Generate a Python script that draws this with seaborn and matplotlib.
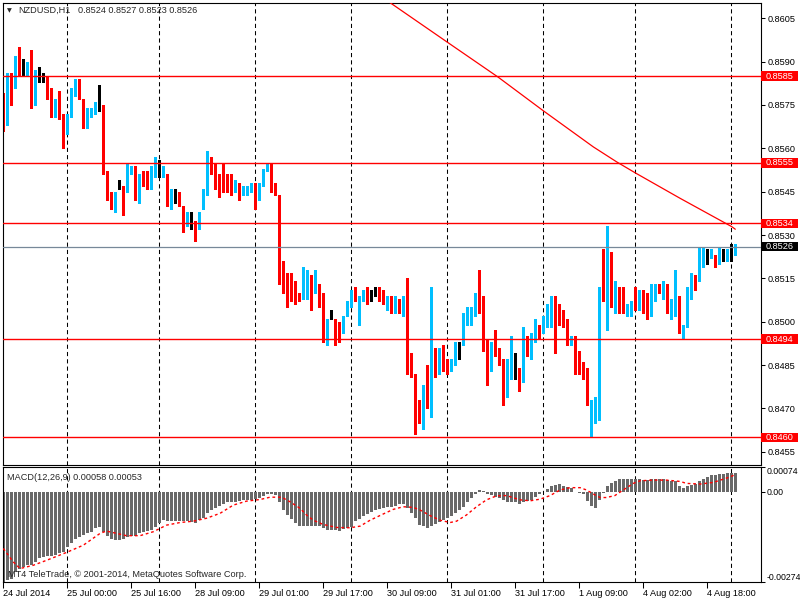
import numpy as np
import matplotlib
matplotlib.use("Agg")
import matplotlib.pyplot as plt
from matplotlib.patches import Rectangle
from matplotlib.transforms import blended_transform_factory
import seaborn as sns

SYMBOL = "NZDUSD"
PERIOD = "H1"

# H1 quotes, in points of 0.0001 (8578 -> 0.8578), bar 1 = 24 Jul 2014 08:00
open_pts = [
    8578, 8574, 8585, 8584, 8592, 8589, 8588, 8588, 8575, 8585,
    8584, 8585, 8581, 8572, 8577, 8572, 8565, 8571, 8579, 8582,
    8577, 8570, 8572, 8573, 8576, 8575, 8552, 8545, 8541, 8546,
    8547, 8545, 8551, 8553, 8545, 8549, 8549, 8546, 8551, 8553,
    8551, 8551, 8539, 8544, 8545, 8540, 8533, 8536, 8535, 8532,
    8539, 8544, 8557, 8552, 8548, 8549, 8549, 8547, 8546, 8546,
    8544, 8545, 8546, 8548, 8543, 8547, 8553, 8553, 8548, 8544,
    8518, 8514, 8514, 8514, 8509, 8509, 8514, 8516, 8511, 8513,
    8510, 8495, 8502, 8501, 8500, 8497, 8503, 8506, 8510, 8506,
    8507, 8511, 8509, 8510, 8511, 8509, 8507, 8509, 8503, 8508,
    8504, 8509, 8487, 8482, 8473, 8466, 8476, 8475, 8487, 8483,
    8489, 8485, 8484, 8485, 8492, 8493, 8501, 8503, 8503, 8509,
    8508, 8493, 8488, 8493, 8490, 8486, 8480, 8481, 8486, 8484,
    8481, 8490, 8488, 8493, 8499, 8496, 8498, 8502, 8509, 8506,
    8504, 8501, 8493, 8495, 8487, 8484, 8484, 8470, 8470, 8472,
    8512, 8509, 8521, 8507, 8509, 8509, 8503, 8503, 8507, 8505,
    8508, 8506, 8503, 8510, 8513, 8510, 8510, 8505, 8505, 8506,
    8496, 8499, 8508, 8514, 8514, 8520, 8522, 8523, 8523, 8520,
    8524, 8522, 8524, 8524,
]
high_pts = [
    8579, 8586, 8586, 8592, 8595, 8591, 8590, 8594, 8587, 8588,
    8586, 8585, 8581, 8577, 8580, 8572, 8572, 8581, 8584, 8584,
    8577, 8574, 8574, 8576, 8582, 8575, 8552, 8545, 8545, 8549,
    8547, 8555, 8554, 8554, 8551, 8552, 8552, 8554, 8557, 8556,
    8554, 8551, 8546, 8546, 8545, 8540, 8538, 8538, 8535, 8538,
    8546, 8559, 8557, 8555, 8551, 8555, 8551, 8551, 8549, 8548,
    8547, 8547, 8548, 8548, 8548, 8553, 8555, 8555, 8548, 8544,
    8521, 8517, 8517, 8514, 8510, 8519, 8518, 8516, 8518, 8513,
    8510, 8501, 8504, 8501, 8500, 8502, 8507, 8511, 8512, 8509,
    8511, 8512, 8511, 8512, 8512, 8511, 8509, 8509, 8509, 8508,
    8509, 8515, 8489, 8482, 8473, 8478, 8485, 8512, 8491, 8491,
    8492, 8487, 8487, 8493, 8493, 8503, 8505, 8505, 8510, 8518,
    8509, 8494, 8493, 8497, 8491, 8487, 8487, 8495, 8489, 8484,
    8498, 8495, 8496, 8501, 8499, 8502, 8506, 8509, 8509, 8506,
    8504, 8501, 8495, 8495, 8490, 8486, 8484, 8473, 8474, 8512,
    8525, 8533, 8524, 8514, 8512, 8512, 8506, 8507, 8512, 8511,
    8511, 8510, 8513, 8513, 8513, 8514, 8513, 8508, 8518, 8509,
    8499, 8512, 8517, 8516, 8526, 8526, 8525, 8525, 8523, 8526,
    8525, 8525, 8527, 8527,
]
low_pts = [
    8566, 8568, 8575, 8581, 8585, 8585, 8585, 8574, 8575, 8583,
    8583, 8577, 8571, 8571, 8570, 8560, 8565, 8571, 8578, 8577,
    8567, 8567, 8571, 8572, 8573, 8551, 8542, 8539, 8538, 8546,
    8537, 8545, 8551, 8542, 8541, 8547, 8546, 8546, 8550, 8550,
    8550, 8540, 8539, 8541, 8540, 8531, 8533, 8532, 8528, 8532,
    8539, 8544, 8551, 8546, 8543, 8545, 8545, 8544, 8545, 8542,
    8544, 8544, 8545, 8539, 8542, 8547, 8552, 8545, 8544, 8513,
    8510, 8505, 8507, 8506, 8507, 8508, 8508, 8504, 8510, 8505,
    8493, 8492, 8501, 8492, 8493, 8496, 8502, 8505, 8507, 8499,
    8507, 8506, 8507, 8509, 8507, 8506, 8504, 8503, 8503, 8503,
    8502, 8482, 8481, 8461, 8465, 8463, 8470, 8467, 8481, 8482,
    8483, 8482, 8483, 8485, 8487, 8492, 8499, 8499, 8502, 8503,
    8490, 8478, 8483, 8488, 8485, 8471, 8474, 8480, 8480, 8476,
    8479, 8488, 8487, 8493, 8494, 8496, 8498, 8498, 8489, 8499,
    8498, 8492, 8492, 8482, 8482, 8480, 8471, 8460, 8465, 8466,
    8507, 8497, 8505, 8503, 8503, 8503, 8502, 8502, 8504, 8504,
    8503, 8501, 8502, 8507, 8510, 8508, 8503, 8501, 8502, 8496,
    8494, 8498, 8508, 8511, 8514, 8519, 8520, 8522, 8519, 8520,
    8521, 8521, 8521, 8523,
]
close_pts = [
    8573, 8585, 8583, 8591, 8590, 8589, 8589, 8574, 8586, 8585,
    8584, 8582, 8573, 8575, 8571, 8564, 8572, 8578, 8583, 8578,
    8571, 8573, 8574, 8575, 8576, 8553, 8545, 8542, 8545, 8546,
    8546, 8552, 8552, 8544, 8549, 8548, 8547, 8552, 8552, 8553,
    8552, 8540, 8543, 8544, 8541, 8532, 8537, 8536, 8534, 8538,
    8545, 8558, 8551, 8547, 8547, 8546, 8546, 8545, 8547, 8543,
    8546, 8547, 8547, 8543, 8547, 8552, 8554, 8549, 8545, 8517,
    8513, 8513, 8513, 8510, 8508, 8513, 8516, 8510, 8514, 8509,
    8494, 8501, 8502, 8498, 8496, 8502, 8505, 8509, 8507, 8509,
    8510, 8508, 8509, 8510, 8508, 8508, 8509, 8504, 8509, 8504,
    8509, 8486, 8482, 8473, 8467, 8476, 8474, 8486, 8482, 8490,
    8484, 8483, 8487, 8490, 8492, 8502, 8502, 8504, 8509, 8506,
    8494, 8489, 8493, 8490, 8487, 8481, 8483, 8485, 8486, 8479,
    8492, 8489, 8493, 8499, 8497, 8499, 8503, 8508, 8507, 8500,
    8499, 8494, 8495, 8486, 8485, 8483, 8472, 8473, 8474, 8512,
    8508, 8520, 8506, 8509, 8508, 8504, 8505, 8506, 8505, 8507,
    8505, 8504, 8509, 8512, 8511, 8511, 8504, 8507, 8508, 8497,
    8499, 8509, 8515, 8513, 8521, 8521, 8522, 8525, 8521, 8522,
    8524, 8525, 8524, 8526,
]

# moving average on the price chart, read at a few bars
ma_bar = [97.7, 112.25, 124.75, 136, 148.5, 154.35, 159, 170.2, 183.1, 184]
ma_val = [0.86104, 0.85965, 0.85846, 0.85730, 0.85605, 0.85553, 0.85515,
          0.85427, 0.85329, 0.85320]

# MACD(12,26,9) main histogram, in units of 0.00001
macd_pts = [
    -274, -270, -265, -244, -234, -229, -224, -222, -214, -202,
    -198, -195, -195, -193, -188, -185, -168, -155, -143, -137,
    -132, -127, -122, -112, -107, -122, -134, -143, -148, -148,
    -145, -137, -134, -134, -127, -122, -120, -117, -107, -94,
    -87, -90, -90, -90, -90, -90, -90, -92, -94, -87,
    -79, -66, -56, -49, -43, -39, -33, -31, -31, -29,
    -25, -25, -24, -23, -18, -12, -6, -6, -10, -31,
    -56, -71, -83, -94, -104, -104, -104, -104, -104, -104,
    -112, -116, -117, -116, -119, -114, -110, -107, -90, -83,
    -73, -69, -63, -57, -54, -51, -48, -48, -43, -39,
    -39, -49, -66, -81, -102, -104, -110, -104, -100, -92,
    -87, -81, -73, -66, -57, -46, -33, -20, -6, 6,
    2, -6, -10, -16, -18, -27, -31, -33, -33, -39,
    -31, -29, -25, -16, -8, -1, 8, 16, 20, 22,
    18, 14, 10, -2, -4, -8, -29, -43, -51, -24,
    -5, 18, 27, 33, 37, 37, 37, 37, 37, 37,
    35, 36, 37, 37, 39, 37, 35, 31, 31, 16,
    12, 16, 20, 24, 31, 37, 45, 49, 51, 54,
    55, 56, 57, 58,
]
# signal line, read at these bars, in units of 0.00001
signal_bar = [1, 3.5, 5.2, 8.5, 11.8, 16.8, 21, 25.2, 26.8, 31.8,
              35.2, 38.5, 41.8, 45.2, 48.5, 51.8, 55.2, 58.5, 61.8, 65.2,
              67.7, 70.6, 72.7, 75.2, 76.8, 78.5, 81, 84.3, 87.7, 90.2,
              92.7, 96, 98.5, 101, 103.5, 105.2, 107.7, 110.2, 112.7, 114.3,
              116.8, 119.3, 121.8, 124.3, 126.8, 130.2, 132.7, 135.2, 137.7, 140.2,
              142.7, 145.2, 146.8, 148.9, 150.2, 151.8, 153.9, 156, 158.5, 160.2,
              163.5, 166.8, 170.2, 171.8, 175.2, 178.5, 181.8, 183.5, 184]
signal_pts = [-173, -214, -234, -224, -209, -185, -163, -127, -120, -134,
              -134, -122, -102, -94, -90, -81, -66, -41, -29, -24,
              -17, -17, -31, -51, -71, -87, -100, -109, -110, -105,
              -87, -68, -54, -46, -48, -56, -73, -87, -94, -90,
              -71, -46, -25, -13, -12, -25, -28, -23, -12, 5,
              12, 12, 5, -10, -18, -18, -12, 5, 25, 33,
              35, 35, 31, 25, 23, 28, 41, 49, 53]

red_levels = [0.8585, 0.8555, 0.8534, 0.8494, 0.8460]
price_ticks = [0.8605, 0.8590, 0.8575, 0.8560, 0.8545, 0.8530,
               0.8515, 0.8500, 0.8485, 0.8470, 0.8455]
macd_ticks = [0.00074, 0.0, -0.00274]
macd_tick_labels = ["0.00074", "0.00", "-0.00274"]
time_bars = [1, 17, 33, 49, 65, 81, 97, 113, 129, 145, 161, 177]
time_labels = ["24 Jul 2014", "25 Jul 00:00", "25 Jul 16:00", "28 Jul 09:00",
               "29 Jul 01:00", "29 Jul 17:00", "30 Jul 09:00", "31 Jul 01:00",
               "31 Jul 17:00", "1 Aug 09:00", "4 Aug 02:00", "4 Aug 18:00"]
grid_bars = [17, 40, 64, 88, 112, 136, 159, 183]

BULL = "#00BFFF"
BEAR = "#FF0000"
FS = 6.6

sns.set_style("white")
plt.rcParams["font.family"] = ["Liberation Sans", "DejaVu Sans"]

o = np.array(open_pts) / 10000
h = np.array(high_pts) / 10000
l = np.array(low_pts) / 10000
c = np.array(close_pts) / 10000
bars = np.arange(1, len(o) + 1)
macd = np.array(macd_pts) / 100000
signal = np.array(signal_pts) / 100000

fig = plt.figure(figsize=(8, 6), dpi=100)
left, width = 2.7 / 800, 758 / 800
ax = fig.add_axes([left, 0.225, width, 0.7705])
ax2 = fig.add_axes([left, 0.0305, width, 0.1907])

xlim = (0.85, 190.35)
ylim = (0.84504, 0.86104)
px = (ylim[1] - ylim[0]) / (0.7705 * 600)

# --- price chart ---
for g in grid_bars:
    for a in (ax, ax2):
        a.axvline(g, color="black", lw=0.75, ls=(0, (4, 3)), zorder=0)

colors = np.where(c > o, BULL, np.where(c < o, BEAR, "black"))
ax.vlines(bars, l, h, colors=colors, lw=0.75, zorder=2, antialiased=False)
body_lo = np.minimum(o, c)
body_h = np.abs(c - o)
doji = body_h == 0
body_lo = np.where(doji, o - px / 2, body_lo)
body_h = np.maximum(body_h, px)
ax.bar(bars, body_h, bottom=body_lo, width=0.75, color=colors, linewidth=0,
       zorder=2, antialiased=False)

sns.lineplot(x=ma_bar, y=ma_val, color="red", lw=0.9, ax=ax, zorder=4)

for lv in red_levels:
    ax.axhline(lv, color="red", lw=1.0, zorder=3)
bid = c[-1]
ax.axhline(bid, color="#778899", lw=0.9, zorder=3)

ax.set_xlim(*xlim)
ax.set_ylim(*ylim)
ax.set_xticks([])
ax.set_yticks(price_ticks)
ax.set_yticklabels([f"{t:.4f}" for t in price_ticks])
ax.tick_params(axis="y", left=False, right=True, labelleft=False, labelright=True,
               direction="out", length=3, width=0.75, pad=2, labelsize=FS,
               colors="black")
ax.set_xlabel("")
ax.set_ylabel("")

trans = blended_transform_factory(ax.transAxes, ax.transData)
box_h = 9.5 * px
box_w = 37 / 758


def price_box(level, face):
    ax.add_patch(Rectangle((1.0, level - box_h / 2), box_w, box_h, transform=trans,
                           facecolor=face, edgecolor="none", clip_on=False, zorder=5))
    ax.text(1.0 + 5 / 758, level, f"{level:.4f}", transform=trans, ha="left",
            va="center", color="white", fontsize=FS, zorder=6, clip_on=False)


for lv in red_levels:
    price_box(lv, "red")
price_box(bid, "black")

fig.text(9.5 / 800, 1 - 10.5 / 600, "\u25bc", fontsize=4.5, family="DejaVu Sans",
         ha="center", va="center")
fig.text(18 / 800, 1 - 10.7 / 600, f"{SYMBOL},{PERIOD}", fontsize=FS,
         ha="left", va="center")
fig.text(78 / 800, 1 - 10.7 / 600,
         f"{o[-1]:.4f} {h[-1]:.4f} {l[-1]:.4f} {c[-1]:.4f}", fontsize=FS,
         ha="left", va="center")

# --- MACD window ---
sns.barplot(x=bars, y=macd, native_scale=True, color="#696969", width=0.75,
            errorbar=None, saturation=1, linewidth=0, ax=ax2, zorder=1)
sns.lineplot(x=signal_bar, y=signal, color="red", lw=1.0, ls=(0, (2, 2)),
             ax=ax2, zorder=3)

ax2.set_xlim(*xlim)
ax2.set_ylim(-0.00274, 0.00074)
ax2.set_xlabel("")
ax2.set_ylabel("")
ax2.set_yticks(macd_ticks)
ax2.set_yticklabels(macd_tick_labels)
ax2.tick_params(axis="y", left=False, right=True, labelleft=False, labelright=True,
                direction="out", length=3, width=0.75, pad=1, labelsize=6.3,
                colors="black")
ylabels = ax2.get_yticklabels()
ylabels[0].set_va("top")
ylabels[-1].set_va("bottom")

ax2.set_xticks(time_bars)
ax2.set_xticklabels(time_labels)
ax2.tick_params(axis="x", bottom=True, direction="out", length=4, width=0.75,
                pad=1.5, labelsize=FS, colors="black")
for lbl in ax2.get_xticklabels():
    lbl.set_ha("left")

ax2.text(4.5 / 758, 0.915, f"MACD(12,26,9) {macd[-1]:.5f} {signal[-1]:.5f}",
         transform=ax2.transAxes, fontsize=FS, ha="left", va="center", zorder=5)
ax2.text(5.5 / 758, 0.06, "MT4 TeleTrade, \u00a9 2001-2014, MetaQuotes Software Corp.",
         transform=ax2.transAxes, fontsize=FS, ha="left", va="center", zorder=5)

for a in (ax, ax2):
    for s in a.spines.values():
        s.set_visible(True)
        s.set_color("black")
        s.set_linewidth(0.8)
    a.set_facecolor("white")

fig.savefig("out.png", dpi=100, facecolor="white")
